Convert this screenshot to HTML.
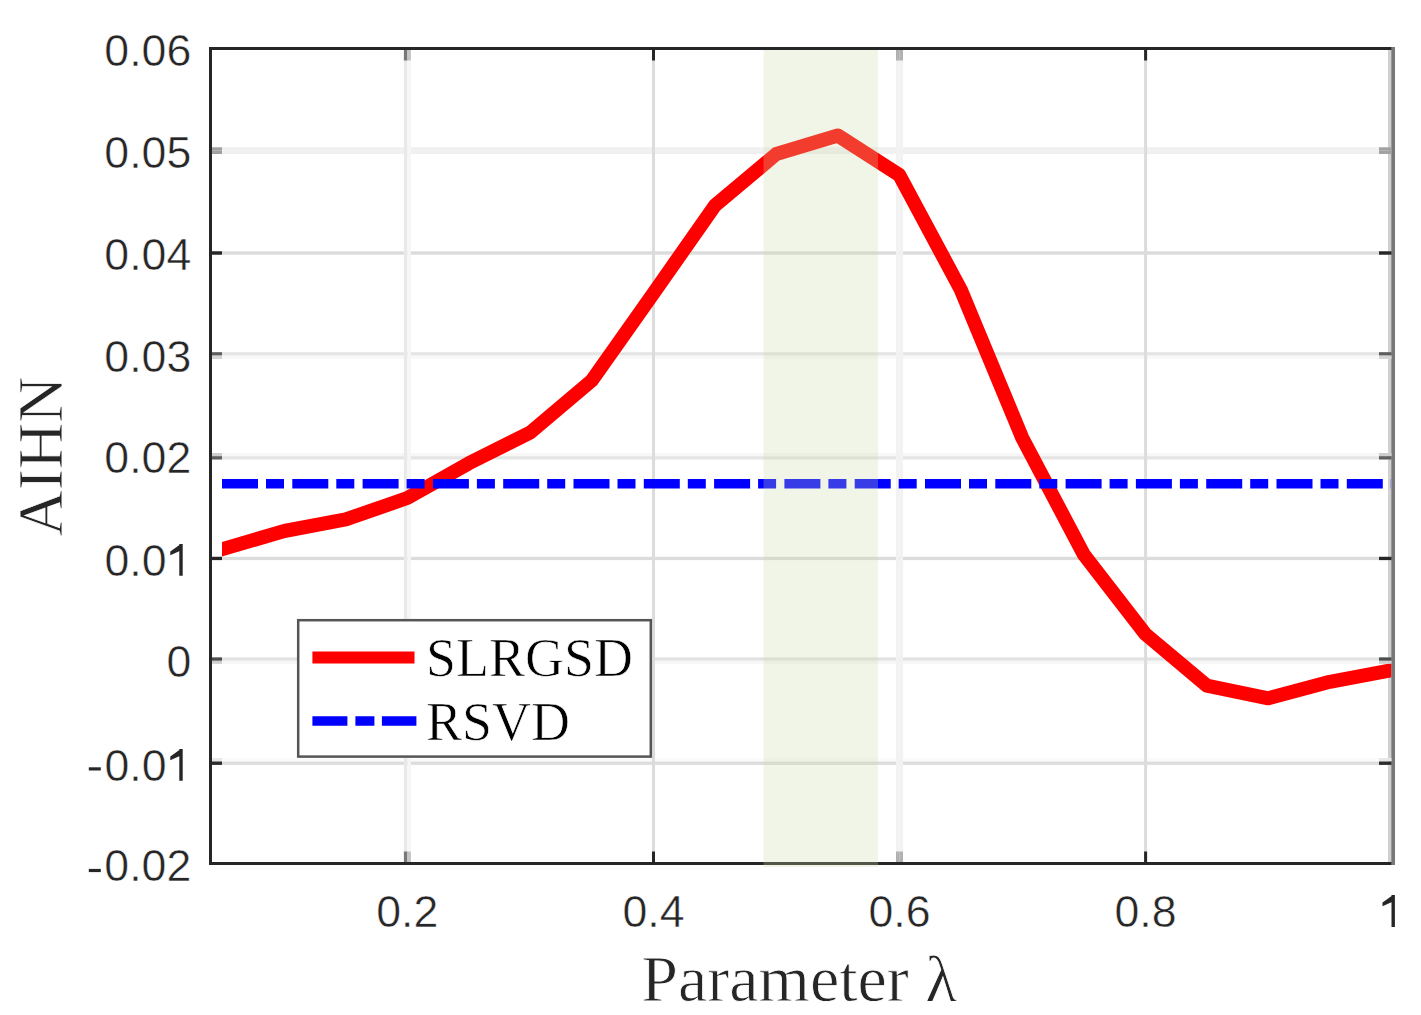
<!DOCTYPE html>
<html><head><meta charset="utf-8">
<style>
html,body{margin:0;padding:0;background:#fff;}
body{width:1421px;height:1015px;overflow:hidden;}
svg{display:block;}
.tl{font-family:"Liberation Sans",sans-serif;font-size:44.7px;fill:#262626;stroke:#fff;stroke-width:0.5px;}
.one{fill:#262626;stroke:none;}
.sf{font-family:"Liberation Serif",serif;fill:#262626;stroke:#fff;stroke-width:0.8px;}
.lg{font-family:"Liberation Serif",serif;fill:#000;stroke:#fff;stroke-width:0.7px;font-size:54px;}
</style></head>
<body>
<svg width="1421" height="1015" viewBox="0 0 1421 1015">
<defs><clipPath id="ax"><rect x="222" y="40" width="1169.5" height="830"/></clipPath></defs>
<rect x="0" y="0" width="1421" height="1015" fill="#fff"/>
<rect x="212" y="147.3" width="1176" height="3.35" fill="rgb(240,240,240)"/>
<rect x="212" y="150.65" width="1176" height="3.35" fill="rgb(240,240,240)"/>
<rect x="212" y="251.3" width="1176" height="3.4" fill="rgb(220,220,220)"/>
<rect x="212" y="352.2" width="1176" height="3.4" fill="rgb(229,229,229)"/>
<rect x="212" y="355.6" width="1176" height="3.4" fill="rgb(248,248,248)"/>
<rect x="212" y="453.0" width="1176" height="3.2" fill="rgb(247,247,247)"/>
<rect x="212" y="456.2" width="1176" height="3.3" fill="rgb(229,229,229)"/>
<rect x="212" y="556.8" width="1176" height="3.3" fill="rgb(220,220,220)"/>
<rect x="212" y="657.4" width="1176" height="3.4" fill="rgb(226,226,226)"/>
<rect x="212" y="660.8" width="1176" height="3.0" fill="rgb(247,247,247)"/>
<rect x="212" y="758.1" width="1176" height="3.2" fill="rgb(251,251,251)"/>
<rect x="212" y="761.5" width="1176" height="3.4" fill="rgb(221,221,221)"/>
<rect x="403.9" y="50" width="3.5" height="812" fill="rgb(233,233,233)"/>
<rect x="407.4" y="50" width="3.5" height="812" fill="rgb(246,246,246)"/>
<rect x="652.0" y="50" width="3.0" height="812" fill="rgb(220,220,220)"/>
<rect x="896.0" y="50" width="3.5" height="812" fill="rgb(242,242,242)"/>
<rect x="899.5" y="50" width="3.5" height="812" fill="rgb(242,242,242)"/>
<rect x="1144.1" y="50" width="3.0" height="812" fill="rgb(220,220,220)"/>
<rect x="1388" y="50" width="3.5" height="812" fill="#d0d0d0"/>
<polyline clip-path="url(#ax)" fill="none" stroke="#ff0000" stroke-width="14" stroke-linejoin="round" stroke-linecap="butt" points="219.0,550.1 284.3,531.0 345.8,519.4 407.3,498.0 468.8,463.3 530.3,432.5 591.8,380.5 653.3,293.5 714.8,205.7 776.3,154.0 837.8,135.5 899.3,175.0 960.8,289.7 1022.3,438.0 1083.8,554.5 1145.3,634.0 1206.8,685.6 1268.3,698.3 1329.8,681.8 1396.2,669.4"/>
<line x1="222" y1="483.7" x2="1391" y2="483.7" stroke="#0000ff" stroke-width="9.6" stroke-dasharray="36 8 18 8.3"/>
<g fill="#262626">
<rect x="209" y="47" width="3" height="818"/>
<rect x="209" y="47" width="1183" height="3"/>
<rect x="209" y="862" width="1183" height="3"/>
</g>
<rect x="1391.3" y="47" width="3.7" height="818" fill="#777"/>
<rect x="212" y="147.3" width="10" height="3.35" fill="rgb(162,162,162)"/>
<rect x="1379" y="147.3" width="12.5" height="3.35" fill="rgb(162,162,162)"/>
<rect x="212" y="150.65" width="10" height="3.35" fill="rgb(162,162,162)"/>
<rect x="1379" y="150.65" width="12.5" height="3.35" fill="rgb(162,162,162)"/>
<rect x="212" y="251.3" width="10" height="3.4" fill="rgb(38,38,38)"/>
<rect x="1379" y="251.3" width="12.5" height="3.4" fill="rgb(38,38,38)"/>
<rect x="212" y="352.2" width="10" height="3.4" fill="rgb(94,94,94)"/>
<rect x="1379" y="352.2" width="12.5" height="3.4" fill="rgb(94,94,94)"/>
<rect x="212" y="355.6" width="10" height="3.4" fill="rgb(212,212,212)"/>
<rect x="1379" y="355.6" width="12.5" height="3.4" fill="rgb(212,212,212)"/>
<rect x="212" y="453.0" width="10" height="3.2" fill="rgb(205,205,205)"/>
<rect x="1379" y="453.0" width="12.5" height="3.2" fill="rgb(205,205,205)"/>
<rect x="212" y="456.2" width="10" height="3.3" fill="rgb(94,94,94)"/>
<rect x="1379" y="456.2" width="12.5" height="3.3" fill="rgb(94,94,94)"/>
<rect x="212" y="556.8" width="10" height="3.3" fill="rgb(38,38,38)"/>
<rect x="1379" y="556.8" width="12.5" height="3.3" fill="rgb(38,38,38)"/>
<rect x="212" y="657.4" width="10" height="3.4" fill="rgb(77,77,77)"/>
<rect x="1379" y="657.4" width="12.5" height="3.4" fill="rgb(77,77,77)"/>
<rect x="212" y="660.8" width="10" height="3.0" fill="rgb(207,207,207)"/>
<rect x="1379" y="660.8" width="12.5" height="3.0" fill="rgb(207,207,207)"/>
<rect x="212" y="758.1" width="10" height="3.2" fill="rgb(231,231,231)"/>
<rect x="1379" y="758.1" width="12.5" height="3.2" fill="rgb(231,231,231)"/>
<rect x="212" y="761.5" width="10" height="3.4" fill="rgb(45,45,45)"/>
<rect x="1379" y="761.5" width="12.5" height="3.4" fill="rgb(45,45,45)"/>
<rect x="403.9" y="50" width="3.5" height="10.5" fill="rgb(120,120,120)"/>
<rect x="403.9" y="851.5" width="3.5" height="10.5" fill="rgb(120,120,120)"/>
<rect x="407.4" y="50" width="3.5" height="10.5" fill="rgb(196,196,196)"/>
<rect x="407.4" y="851.5" width="3.5" height="10.5" fill="rgb(196,196,196)"/>
<rect x="652.0" y="50" width="3.0" height="10.5" fill="rgb(38,38,38)"/>
<rect x="652.0" y="851.5" width="3.0" height="10.5" fill="rgb(38,38,38)"/>
<rect x="896.0" y="50" width="3.5" height="10.5" fill="rgb(177,177,177)"/>
<rect x="896.0" y="851.5" width="3.5" height="10.5" fill="rgb(177,177,177)"/>
<rect x="899.5" y="50" width="3.5" height="10.5" fill="rgb(177,177,177)"/>
<rect x="899.5" y="851.5" width="3.5" height="10.5" fill="rgb(177,177,177)"/>
<rect x="1144.1" y="50" width="3.0" height="10.5" fill="rgb(38,38,38)"/>
<rect x="1144.1" y="851.5" width="3.0" height="10.5" fill="rgb(38,38,38)"/>
<rect x="763.5" y="50" width="114.5" height="817" fill="rgb(203,217,168)" fill-opacity="0.275"/>
<rect x="298.2" y="620.2" width="352.6" height="136.4" fill="#fff" stroke="#555" stroke-width="2.5"/>
<line x1="312.4" y1="657.6" x2="414.5" y2="657.6" stroke="#ff0000" stroke-width="12"/>
<line x1="312.4" y1="721" x2="416.4" y2="721" stroke="#0000ff" stroke-width="9.5" stroke-dasharray="35 8 19 7.5"/>
<text class="lg" x="426" y="676">SLRGSD</text>
<text class="lg" x="426" y="740">RSVD</text>
<g class="tl" text-anchor="end">
<text x="191.3" y="66">0.06</text>
<text x="191.3" y="167.8">0.05</text>
<text x="191.3" y="269.7">0.04</text>
<text x="191.3" y="371.5">0.03</text>
<text x="191.3" y="473.3">0.02</text>
<text x="166.6" y="575.7">0.0</text>
<path class="one" d="M179.3,575.7 V543.9 H182.7 V575.7 Z M180.8,543.9 V550.5 L170.3,555.2 V551.4 Z"/>
<text x="191.3" y="677">0</text>
<rect class="one" x="88.8" y="767.3" width="12" height="3.2"/>
<text x="166.6" y="780.7">0.0</text>
<path class="one" d="M179.3,780.7 V748.9 H182.7 V780.7 Z M180.8,748.9 V755.5 L170.3,760.2 V756.4 Z"/>
<rect class="one" x="88.8" y="868.9" width="12" height="3.2"/>
<text x="191.3" y="881">0.02</text>
</g>
<g class="tl" text-anchor="middle">
<text x="407.3" y="927">0.2</text>
<text x="653.5" y="927">0.4</text>
<text x="899.5" y="927">0.6</text>
<text x="1145.5" y="927">0.8</text>
</g>
<g class="one"><path class="one" d="M1391.5,927.0 V895.0 H1394.9 V927.0 Z M1393.0,895.0 V901.6 L1382.5,906.3 V902.5 Z"/></g>
<text class="sf" x="799.3" y="1001" font-size="66" text-anchor="middle">Parameter λ</text>
<text class="sf" font-size="64" text-anchor="middle" transform="translate(62,456.5) rotate(-90)">AIHN</text>
</svg>
</body></html>
